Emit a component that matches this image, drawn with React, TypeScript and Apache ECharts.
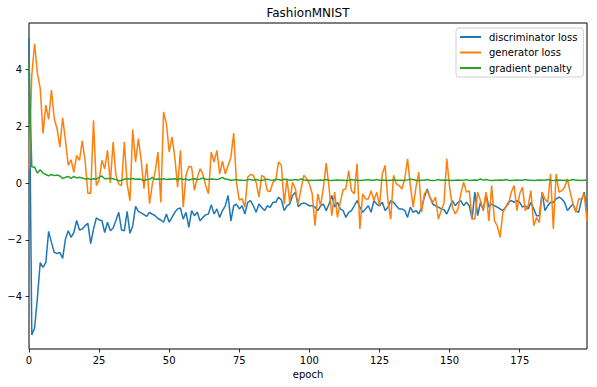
import React, { useEffect, useRef } from "react";
import * as echarts from "echarts";

const discriminatorLoss = [
  5.1, -5.35, -5.1, -4.03, -2.8, -2.97, -2.8, -1.7, -2.09, -2.44,
  -2.48, -2.44, -2.65, -1.97, -1.68, -1.91, -1.74, -1.32, -1.65, -1.62,
  -1.5, -1.42, -2.13, -1.62, -1.23, -1.3, -1.32, -1.74, -1.38, -1.68,
  -1.58, -1.32, -1.03, -1.65, -1.68, -1.0, -1.77, -1.5, -0.82, -1.0,
  -1.05, -1.11, -1.17, -1.03, -1.1, -1.15, -1.25, -1.3, -1.38, -1.09,
  -1.38, -1.21, -1.03, -0.91, -0.88, -1.27, -1.03, -1.56, -0.97, -1.15,
  -1.03, -1.33, -1.21, -1.12, -1.09, -0.76, -1.09, -0.91, -1.21, -0.97,
  -0.8, -0.44, -1.33, -0.8, -0.74, -0.91, -0.8, -1.09, -0.68, -0.62,
  -0.8, -1.03, -0.74, -0.86, -0.97, -0.8, -0.86, -0.68, -0.68, -0.5,
  -0.59, -0.97, -0.8, -0.74, -0.44, -0.32, -0.83, -0.74, -0.7, -0.74,
  -0.8, -0.8, -0.85, -0.97, -0.8, -0.74, -0.97, -0.74, -0.44, -0.85,
  -0.68, -0.91, -0.97, -1.21, -1.03, -0.97, -0.8, -0.62, -0.85, -1.03,
  -0.91, -0.8, -1.03, -0.62, -0.74, -0.8, -0.68, -0.97, -0.85, -0.62,
  -0.68, -0.8, -0.91, -0.91, -0.97, -1.21, -0.85, -1.03, -0.97, -1.09,
  -0.85, -0.5, -0.21, -0.5, -0.74, -0.8, -0.85, -0.91, -0.94, -1.09,
  -0.85, -0.62, -0.8, -0.68, -0.62, -0.8, -0.68, -0.8, -1.27, -0.32,
  -1.15, -0.68, -0.97, -0.38, -0.85, -0.74, -0.8, -0.85, -0.91, -0.97,
  -0.85, -0.68, -0.62, -0.68, -0.62, -0.68, -0.85, -0.8, -0.91, -0.68,
  -0.91, -1.15, -1.15, -0.32, -0.97, -0.8, -0.68, -0.68, -0.56, -0.5,
  -0.56, -0.68, -0.97, -0.85, -0.74, -0.97, -1.03, -0.62, -0.32, -0.97,
];

const generatorLoss = [
  0.5, 3.8, 4.9, 3.86, 3.33, 1.74, 2.74, 2.24, 3.27, 2.27,
  1.91, 1.27, 2.29, 1.5, 0.62, 0.82, 0.38, 0.97, 0.8, 1.48,
  0.8, -0.36, -0.36, 2.21, -0.09, 0.09, 0.8, 0.5, 1.15, 0.0,
  1.44, 0.27, -0.03, -0.09, 1.44, -0.03, -0.62, 1.88, 0.74, 1.56,
  0.8, -0.2, 0.68, -0.73, -0.03, 0.4, 1.09, -0.68, 2.5, 2.09,
  1.09, 1.62, 0.91, -0.15, 1.15, -0.85, 0.27, 0.58, 0.56, -0.26,
  0.18, 0.5, 0.32, -0.09, -0.38, 1.09, 0.74, 1.15, 0.32, 0.77,
  0.32, 0.62, 0.91, 1.76, 0.0, -0.6, -0.55, -0.85, 0.2, 0.3,
  0.27, 0.03, -0.5, 0.27, 0.2, -0.27, -0.3, 0.03, 0.09, 0.74,
  0.62, -0.74, 0.15, -0.68, 0.03, -0.21, -0.74, -0.21, 0.27, 0.15,
  -0.03, -0.38, -1.5, -0.38, -0.8, -0.15, 0.7, -0.15, -1.15, -0.32,
  -1.21, -0.68, -0.24, -0.21, 0.44, -0.27, -0.38, 0.68, -1.62, -0.38,
  -0.56, -0.56, -0.27, -0.62, -0.32, -0.8, 0.32, 0.62, -0.62, -1.27,
  0.27, -0.03, -0.09, -0.21, 0.15, 0.85, -0.09, -0.85, -0.15, 0.38,
  -1.03, -0.38, -0.27, -0.5, -0.68, -0.5, -1.27, -0.97, -0.7, 0.85,
  -0.15, -0.85, -1.09, -0.91, -0.38, 0.03, -0.32, -0.27, -1.27, -1.27,
  -0.32, -0.62, -0.97, -0.32, -1.33, -0.09, -1.33, -1.5, -1.91, -1.03,
  -0.85, -0.74, -0.32, -0.09, -0.97, -0.38, -0.15, -0.97, -0.8, -0.27,
  -1.5, -1.21, -1.39, -0.32, -0.56, -0.68, 0.32, -1.62, 0.32, -0.32,
  -0.27, -0.15, 0.15, -0.32, -0.74, -1.03, -0.56, -0.56, -0.38, -1.33,
];

const gradientPenalty = [
  4.3, 0.56, 0.56, 0.35, 0.47, 0.35, 0.3, 0.25, 0.3, 0.26, 0.28,
  0.25, 0.16, 0.2, 0.23, 0.16, 0.23, 0.18, 0.2, 0.18, 0.14,
  0.16, 0.12, 0.15, 0.14, 0.2, 0.25, 0.15, 0.16, 0.16, 0.15, 0.12, 0.08, 0.09, 0.14, 0.15, 0.14, 0.16, 0.13, 0.14, 0.13,
  0.08, 0.12, 0.13, 0.2, 0.13, 0.14, 0.13, 0.15, 0.12, 0.14, 0.13, 0.15, 0.11, 0.16, 0.12, 0.14, 0.1, 0.13, 0.15, 0.12,
  0.14, 0.18, 0.13, 0.12, 0.14, 0.13, 0.12, 0.15, 0.2, 0.14, 0.12, 0.1, 0.11, 0.12, 0.1, 0.1, 0.09, 0.12, 0.12, 0.1,
  0.12, 0.1, 0.09, 0.12, 0.13, 0.11, 0.1, 0.12, 0.12, 0.1, 0.13, 0.12, 0.1, 0.11, 0.12, 0.1, 0.14, 0.11, 0.1, 0.1,
  0.09, 0.1, 0.1, 0.11, 0.1, 0.12, 0.1, 0.09, 0.1, 0.11, 0.1, 0.1, 0.09, 0.1, 0.12, 0.11, 0.1, 0.09, 0.1, 0.11,
  0.12, 0.1, 0.1, 0.12, 0.1, 0.11, 0.1, 0.09, 0.1, 0.11, 0.1, 0.1, 0.1, 0.09, 0.11, 0.13, 0.12, 0.1, 0.09, 0.1,
  0.1, 0.12, 0.1, 0.09, 0.1, 0.12, 0.1, 0.11, 0.1, 0.1, 0.09, 0.1, 0.11, 0.1, 0.1, 0.12, 0.09, 0.1, 0.11, 0.1,
  0.14, 0.1, 0.12, 0.1, 0.09, 0.1, 0.1, 0.11, 0.1, 0.12, 0.1, 0.09, 0.1, 0.11, 0.1, 0.1, 0.12, 0.1, 0.1, 0.09,
  0.1, 0.11, 0.1, 0.1, 0.12, 0.1, 0.09, 0.1, 0.11, 0.1, 0.1, 0.09, 0.1, 0.12, 0.1, 0.1, 0.09, 0.1, 0.11,
];

const xTicks = [0, 25, 50, 75, 100, 125, 150, 175];
const yTicks = [-4, -2, 0, 2, 4];
const seriesNames = ["discriminator loss", "generator loss", "gradient penalty"];
const seriesColors = ["#1f77b4", "#ff7f0e", "#2ca02c"];

const FONT = "DejaVu Sans";

export default function App() {
  const ref = useRef<HTMLDivElement>(null);
  useEffect(() => {
    const chart = echarts.init(ref.current!, null, { renderer: "svg" });
    const toPairs = (arr: number[]) => arr.map((v, i) => [i, v]);
    const fmt = (v: number) => String(v).replace("-", "\u2212");
    const values = [discriminatorLoss, generatorLoss, gradientPenalty];
    chart.setOption({
      animation: false,
      grid: {
        left: 29,
        right: 10,
        top: 23,
        bottom: 38,
        show: true,
        borderColor: "#000",
        borderWidth: 1,
        backgroundColor: "transparent",
        containLabel: false,
        outerBoundsMode: "none",
      },
      graphic: [
        {
          type: "text",
          x: 308,
          y: 13,
          style: {
            text: "FashionMNIST",
            fontSize: 12,
            fontFamily: FONT,
            fill: "#000",
            textAlign: "center",
            textVerticalAlign: "middle",
          },
        },
      ],
      xAxis: {
        type: "value",
        min: 0,
        max: 199,
        name: "epoch",
        nameLocation: "middle",
        nameGap: 20,
        nameTextStyle: { fontSize: 10, fontFamily: FONT, color: "#000", verticalAlign: "top" },
        axisLine: { show: false, onZero: false },
        splitLine: { show: false },
        axisTick: { show: true, length: 3.5, lineStyle: { color: "#000", width: 0.8 }, customValues: xTicks },
        axisLabel: { customValues: xTicks, color: "#000", fontSize: 10, fontFamily: FONT, margin: 6, formatter: fmt },
      },
      yAxis: {
        type: "value",
        min: -5.84,
        max: 5.63,
        axisLine: { show: false, onZero: false },
        splitLine: { show: false },
        axisTick: { show: true, length: 3.5, lineStyle: { color: "#000", width: 0.8 }, customValues: yTicks },
        axisLabel: { customValues: yTicks, color: "#000", fontSize: 10, fontFamily: FONT, margin: 7, formatter: fmt },
      },
      legend: {
        orient: "vertical",
        left: 456,
        top: 28,
        itemWidth: 21,
        itemHeight: 2,
        icon: "rect",
        itemGap: 3.5,
        padding: [3, 6, 3, 4],
        borderColor: "#d0d0d0",
        borderWidth: 1,
        borderRadius: 3,
        backgroundColor: "rgba(255,255,255,0.8)",
        textStyle: { fontSize: 10, fontFamily: FONT, color: "#000", lineHeight: 12, padding: [0, 0, 0, 3] },
        data: seriesNames,
      },
      series: values.map((arr, k) => ({
        name: seriesNames[k],
        type: "line",
        data: toPairs(arr),
        showSymbol: false,
        symbol: "none",
        color: seriesColors[k],
        lineStyle: { width: 1.5, color: seriesColors[k] },
        emphasis: { disabled: true },
      })),
    });
    return () => chart.dispose();
  }, []);
  return <div ref={ref} style={{ position: "fixed", left: 0, top: 0, width: 597, height: 387, background: "#fff" }} />;
}
